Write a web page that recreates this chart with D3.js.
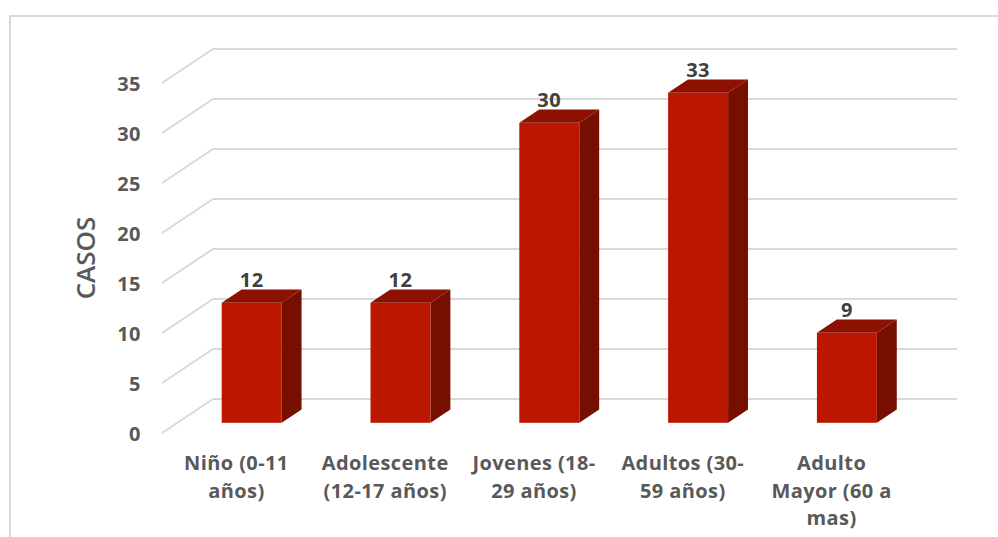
<!DOCTYPE html>
<html>
<head>
<meta charset="utf-8">
<script src="https://cdn.jsdelivr.net/npm/d3@7"></script>
<style>
  html, body { margin: 0; padding: 0; background: #fff; }
  svg { display: block; }
</style>
</head>
<body>
<div id="chart"></div>
<script>
// ---- Data ----
const categories = ["Niño (0-11 años)", "Adolescente (12-17 años)", "Jovenes (18-29 años)", "Adultos (30-59 años)", "Adulto Mayor (60 a mas)"];
const categoryLines = [["Niño (0-11", "años)"], ["Adolescente", "(12-17 años)"], ["Jovenes (18-", "29 años)"], ["Adultos (30-", "59 años)"], ["Adulto", "Mayor (60 a", "mas)"]];
const values = [12, 12, 30, 33, 9];
const yTicks = [0, 5, 10, 15, 20, 25, 30, 35];
const yTitle = "CASOS";

// ---- Layout ----
const W = 998, H = 537;
const FONT = "'Open Sans', Lato, sans-serif";
const svg = d3.select("#chart").append("svg").attr("width", W).attr("height", H);
svg.append("rect").attr("width", W).attr("height", H).attr("fill", "#fff");

// chart border (only top and left visible)
svg.append("path").attr("d", "M10,537 L10,16 L998,16")
  .attr("fill", "none").attr("stroke", "#d9d9d9").attr("stroke-width", 2);

const DX = -51, DY = 34; // depth vector back->front
const x = d3.scaleBand().domain(categories).range([213, 957]);
const y = d3.scaleLinear().domain([0, 35]).range([399, 49]);
const P = (px, py, d) => [px + DX * d, py + DY * d];

const gridColor = "#d9d9d9";
const grid = svg.append("g");
yTicks.forEach(t => {
  const a = P(x.range()[0], y(t), 1), b = P(x.range()[0], y(t), 0);
  grid.append("line").attr("x1", a[0]).attr("y1", a[1]).attr("x2", b[0]).attr("y2", b[1])
    .attr("stroke", gridColor).attr("stroke-width", 2);
  grid.append("line").attr("x1", x.range()[0]).attr("y1", y(t)).attr("x2", x.range()[1]).attr("y2", y(t))
    .attr("stroke", gridColor).attr("stroke-width", 2);
});

// y tick labels
svg.append("g").selectAll("text").data(yTicks).join("text")
  .attr("x", 141).attr("y", t => P(0, y(t), 1)[1] + 1).attr("dy", "0.35em")
  .attr("text-anchor", "end")
  .attr("font-family", FONT).attr("font-weight", "bold")
  .attr("font-size", 20).attr("letter-spacing", 0.5).attr("fill", "#595959")
  .text(d => d);

// y title
svg.append("text")
  .attr("transform", "translate(86,258) rotate(-90)")
  .attr("text-anchor", "middle").attr("dy", "0.35em")
  .attr("font-family", FONT).attr("font-weight", 600)
  .attr("font-size", 26).attr("fill", "#595959")
  .text(yTitle);

// bars
const barW = x.bandwidth() * 0.403;
const fD = 0.70, bD = 0.31;
const bars = svg.append("g");
categories.forEach((c, i) => {
  const v = values[i];
  const x0 = x(c) + (x.bandwidth() - barW) / 2, x1 = x0 + barW;
  const y0 = y(0), yv = y(v);
  const poly = pts => pts.map(p => p.join(",")).join(" ");
  // side
  bars.append("polygon")
    .attr("points", poly([P(x1, y0, fD), P(x1, yv, fD), P(x1, yv, bD), P(x1, y0, bD)]))
    .attr("fill", "#760f00");
  // top
  bars.append("polygon")
    .attr("points", poly([P(x0, yv, fD), P(x1, yv, fD), P(x1, yv, bD), P(x0, yv, bD)]))
    .attr("fill", "#8c1100");
  // front
  const f0 = P(x0, yv, fD);
  bars.append("rect").attr("x", f0[0]).attr("y", f0[1]).attr("width", barW).attr("height", y0 - yv)
    .attr("fill", "#bb1700");
  // label
  bars.append("text")
    .attr("x", f0[0] + barW / 2).attr("y", f0[1] - 16)
    .attr("text-anchor", "middle")
    .attr("font-family", FONT).attr("font-weight", "bold")
    .attr("font-size", 20).attr("letter-spacing", 0.5).attr("fill", "#404040")
    .text(v);
});

// category labels
const catG = svg.append("g");
categories.forEach((c, i) => {
  const cx = x(c) + x.bandwidth() / 2 + DX;
  const t = catG.append("text")
    .attr("text-anchor", "middle")
    .attr("font-family", FONT).attr("font-weight", "bold")
    .attr("font-size", 20).attr("letter-spacing", 0.4).attr("fill", "#595959");
  categoryLines[i].forEach((ln, j) => {
    t.append("tspan").attr("x", cx).attr("y", 463 + j * 27.5).attr("dy", "0.35em").text(ln);
  });
});
</script>
</body>
</html>
